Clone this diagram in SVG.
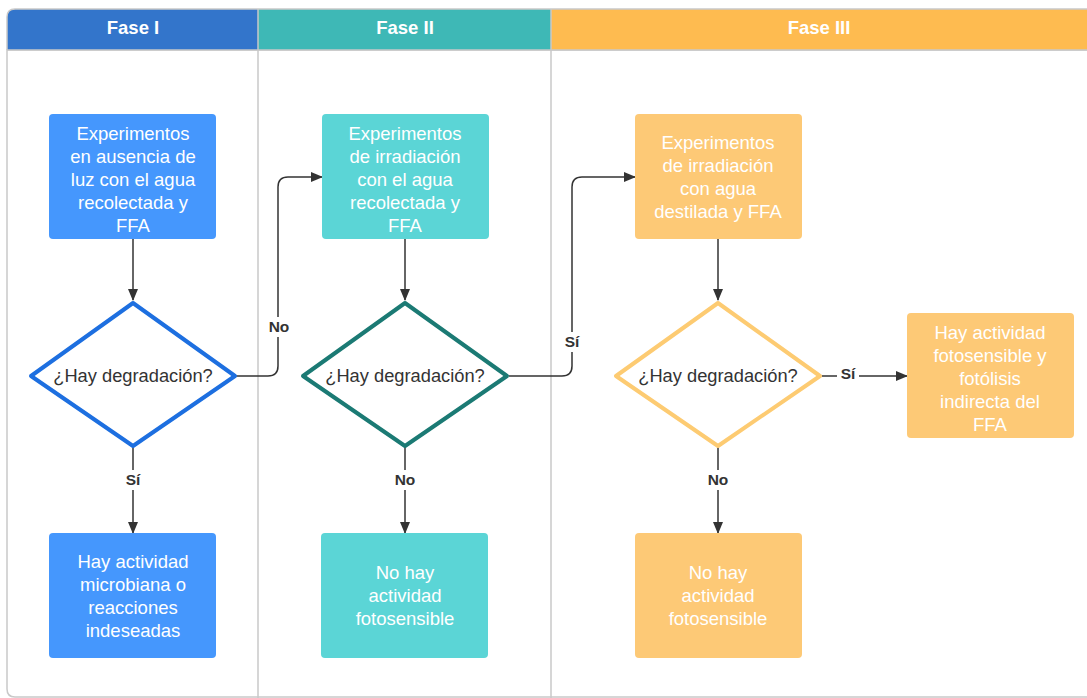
<svg xmlns="http://www.w3.org/2000/svg" width="1087" height="698" viewBox="0 0 1087 698">
<style>
.lane{fill:#fff;stroke:#c9c9c9;stroke-width:1.5}
.hdr{font-family:"Liberation Sans",Arial,sans-serif;font-size:18.5px;font-weight:bold;fill:#fff;text-anchor:middle}
.bt{font-family:"Liberation Sans",Arial,sans-serif;font-size:18.5px;fill:#fff;text-anchor:middle}
.dt{font-family:"Liberation Sans",Arial,sans-serif;font-size:18.3px;fill:#333;text-anchor:middle}
.lbl{font-family:"Liberation Sans",Arial,sans-serif;font-size:15.5px;font-weight:bold;fill:#333;text-anchor:middle}
.con{fill:none;stroke:#333;stroke-width:1.5}
.lb{fill:#fff}
</style>
<defs>
<marker id="arr" markerWidth="12" markerHeight="10" refX="11" refY="5" orient="auto" markerUnits="userSpaceOnUse">
<path d="M0,0 L12,5 L0,10 z" fill="#333"/>
</marker>
</defs>
<g id="lanes">
<path class="lane" d="M7,50 L7,689 Q7,697 15,697 L1095,697 L1095,50 z"/>
<line x1="258" y1="50" x2="258" y2="698" stroke="#c9c9c9" stroke-width="1.5"/>
<line x1="551" y1="50" x2="551" y2="698" stroke="#c9c9c9" stroke-width="1.5"/>
<path d="M7,50 L7,17 Q7,9 15,9 L258,9 L258,50 z" fill="#3375cb"/>
<rect x="258" y="9" width="293" height="41" fill="#3eb8b6"/>
<rect x="551" y="9" width="540" height="41" fill="#febb50"/>
<path d="M7,50 L7,17 Q7,9 15,9 L1090,9" fill="none" stroke="#c9c9c9" stroke-width="1.5"/>
<line x1="7" y1="50" x2="1090" y2="50" stroke="#c9c9c9" stroke-width="1.5"/>
<line x1="258" y1="9" x2="258" y2="50" stroke="#c9c9c9" stroke-width="1.5"/>
<line x1="551" y1="9" x2="551" y2="50" stroke="#c9c9c9" stroke-width="1.5"/>
<text class="hdr" x="133" y="34">Fase I</text>
<text class="hdr" x="405" y="34">Fase II</text>
<text class="hdr" x="819" y="34">Fase III</text>
</g>
<g id="connectors">
<path class="con" d="M133,239 L133,300" marker-end="url(#arr)"/>
<path class="con" d="M236,376 L268,376 Q278,376 278,366 L278,187 Q278,177 288,177 L322,177" marker-end="url(#arr)"/>
<path class="con" d="M133,447 L133,533" marker-end="url(#arr)"/>
<path class="con" d="M405,239 L405,300" marker-end="url(#arr)"/>
<path class="con" d="M509,376 L562,376 Q572,376 572,366 L572,187 Q572,177 582,177 L635,177" marker-end="url(#arr)"/>
<path class="con" d="M405,447 L405,533" marker-end="url(#arr)"/>
<path class="con" d="M718,239 L718,300" marker-end="url(#arr)"/>
<path class="con" d="M822,376 L907,376" marker-end="url(#arr)"/>
<path class="con" d="M718,447 L718,533" marker-end="url(#arr)"/>
<rect class="lb" x="265" y="317" width="28" height="20"/>
<text class="lbl" x="279" y="332">No</text>
<rect class="lb" x="122" y="470" width="22" height="20"/>
<text class="lbl" x="133" y="485">Sí</text>
<rect class="lb" x="561" y="332" width="22" height="20"/>
<text class="lbl" x="572" y="347">Sí</text>
<rect class="lb" x="391" y="470" width="28" height="20"/>
<text class="lbl" x="405" y="485">No</text>
<rect class="lb" x="837" y="366" width="22" height="16"/>
<text class="lbl" x="848" y="379">Sí</text>
<rect class="lb" x="704" y="470" width="28" height="20"/>
<text class="lbl" x="718" y="485">No</text>
</g>
<g id="n1">
<rect x="49" y="114" width="167" height="125" rx="4" fill="#4597fd"/>
<text class="bt" x="133" y="140">Experimentos</text>
<text class="bt" x="133" y="163">en ausencia de</text>
<text class="bt" x="133" y="186">luz con el agua</text>
<text class="bt" x="133" y="209">recolectada y</text>
<text class="bt" x="133" y="232">FFA</text>
</g>
<g id="d1">
<polygon points="133,303 235,376 133,446 31,376" fill="#fff" stroke="#1d6fe0" stroke-width="4" stroke-linejoin="round"/>
<text class="dt" x="133" y="382">¿Hay degradación?</text>
</g>
<g id="n2">
<rect x="49" y="533" width="167" height="125" rx="4" fill="#4597fd"/>
<text class="bt" x="133" y="568">Hay actividad</text>
<text class="bt" x="133" y="591">microbiana o</text>
<text class="bt" x="133" y="614">reacciones</text>
<text class="bt" x="133" y="637">indeseadas</text>
</g>
<g id="n3">
<rect x="322" y="114" width="167" height="125" rx="4" fill="#5bd5d6"/>
<text class="bt" x="405" y="140">Experimentos</text>
<text class="bt" x="405" y="163">de irradiación</text>
<text class="bt" x="405" y="186">con el agua</text>
<text class="bt" x="405" y="209">recolectada y</text>
<text class="bt" x="405" y="232">FFA</text>
</g>
<g id="d2">
<polygon points="405,303 507,376 405,446 303,376" fill="#fff" stroke="#1b7a74" stroke-width="4" stroke-linejoin="round"/>
<text class="dt" x="405" y="382">¿Hay degradación?</text>
</g>
<g id="n4">
<rect x="321" y="533" width="167" height="125" rx="4" fill="#5bd5d6"/>
<text class="bt" x="405" y="579">No hay</text>
<text class="bt" x="405" y="602">actividad</text>
<text class="bt" x="405" y="625">fotosensible</text>
</g>
<g id="n5">
<rect x="635" y="114" width="167" height="125" rx="4" fill="#fdc976"/>
<text class="bt" x="718" y="149">Experimentos</text>
<text class="bt" x="718" y="172">de irradiación</text>
<text class="bt" x="718" y="195">con agua</text>
<text class="bt" x="718" y="218">destilada y FFA</text>
</g>
<g id="d3">
<polygon points="718,303 820,376 718,446 616,376" fill="#fff" stroke="#fdcb72" stroke-width="4" stroke-linejoin="round"/>
<text class="dt" x="718" y="382">¿Hay degradación?</text>
</g>
<g id="n6">
<rect x="907" y="313" width="167" height="125" rx="4" fill="#fdc976"/>
<text class="bt" x="990" y="339">Hay actividad</text>
<text class="bt" x="990" y="362">fotosensible y</text>
<text class="bt" x="990" y="385">fotólisis</text>
<text class="bt" x="990" y="408">indirecta del</text>
<text class="bt" x="990" y="431">FFA</text>
</g>
<g id="n7">
<rect x="635" y="533" width="167" height="125" rx="4" fill="#fdc976"/>
<text class="bt" x="718" y="579">No hay</text>
<text class="bt" x="718" y="602">actividad</text>
<text class="bt" x="718" y="625">fotosensible</text>
</g>
</svg>
